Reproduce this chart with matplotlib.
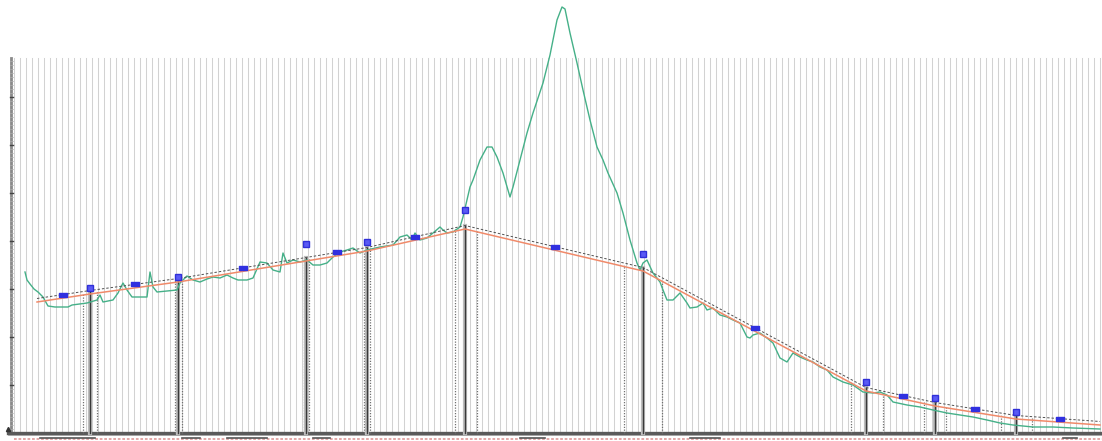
import numpy as np
import matplotlib
matplotlib.use("Agg")
import matplotlib.pyplot as plt

# ---- data (station, elevation in chart units) ----
ground_station = [25, 27, 30, 34, 38, 43, 48, 55, 68, 72, 87, 97, 100, 103, 113, 118, 123, 127, 132, 147,
                  150, 153, 157, 177, 180, 187, 193, 200, 207, 213, 220, 227, 233, 238, 247, 253, 260, 267,
                  273, 280, 283, 287, 293, 300, 307, 313, 320, 327, 333, 340, 347, 353, 360, 367, 380, 393,
                  400, 407, 412, 415, 420, 427, 433, 440, 443, 447, 453, 460, 463, 467, 470, 473, 480, 487,
                  492, 497, 503, 510, 513, 520, 527, 533, 543, 550, 557, 562, 565, 570, 577, 583, 590, 597,
                  603, 608, 617, 623, 630, 637, 640, 643, 647, 653, 660, 663, 667, 673, 680, 687, 690, 697,
                  703, 707, 713, 720, 727, 733, 740, 747, 750, 753, 760, 767, 773, 780, 787, 793, 800, 807,
                  813, 820, 827, 833, 843, 853, 863, 873, 880, 887, 893, 907, 920, 933, 947, 960, 973, 987,
                  1000, 1013, 1033, 1053, 1073, 1100]
ground_y = [272, 280, 284, 289, 292, 297, 306, 307, 307, 305, 303, 300, 295, 302, 300, 293, 283, 290, 297, 297,
            272, 287, 292, 290, 283, 276, 280, 282, 279, 277, 278, 275, 278, 280, 280, 278, 262, 263,
            270, 272, 253, 263, 260, 262, 260, 265, 265, 263, 257, 252, 250, 248, 253, 250, 247, 245,
            237, 235, 240, 233, 240, 238, 233, 227, 230, 233, 232, 227, 217, 200, 187, 180, 160, 147,
            147, 157, 173, 197, 187, 160, 133, 113, 83, 55, 20, 7, 9, 33, 63, 90, 120, 147,
            160, 173, 193, 213, 240, 263, 270, 263, 260, 273, 282, 290, 300, 300, 293, 303, 308, 307,
            303, 310, 308, 315, 317, 320, 323, 337, 338, 335, 333, 338, 343, 358, 362, 353, 357, 360,
            362, 367, 370, 377, 382, 385, 392, 393, 392, 395, 402, 405, 407, 410, 413, 415, 417, 420,
            423, 425, 427, 427, 428, 429]
ground_elev = [441 - v for v in ground_y]

design_station = [37, 90, 178, 306, 367, 465, 643, 866, 935, 1016, 1100]
design_y = [302, 294, 282, 261, 251, 229, 271, 391, 406, 419, 425]
design_elev = [441 - v for v in design_y]

pvi_station = [90, 178, 306, 367, 465, 643, 866, 935, 1016]
pvi_label_y = [288, 277, 244, 242, 210, 254, 382, 398, 412]
pvi_label_elev = [441 - v for v in pvi_label_y]
bvc_station = [83, 175, 304, 364, 455, 624, 851, 924, 1001]
evc_station = [97, 182, 309, 370, 477, 662, 883, 946, 1032]
grade_label_station = [63, 135, 243, 337, 415, 555, 755, 903, 975, 1060]

BASE = 441 - 432.5
TOP = 441 - 58

fig = plt.figure(figsize=(11.02, 4.41), dpi=100)
ax = fig.add_axes([0, 0, 1, 1])
ax.set_xlim(0, 1102)
ax.set_ylim(0, 441)
ax.axis('off')

# vertical grid lines
for gx in np.arange(14, 1101, 6.0):
    ax.plot([gx, gx], [BASE, TOP], color='#d2d2d2', lw=0.75, zorder=1)

# left ruler
ax.plot([11, 11], [BASE, TOP], color='#8a8a8a', lw=2.0, zorder=2)
for ty in np.arange(BASE, TOP, 4.0):
    ax.plot([10, 12.5], [ty, ty], color='#b0b0b0', lw=0.5, zorder=2)
for ty in np.arange(BASE, TOP, 48.0):
    ax.plot([9.5, 13], [ty, ty], color='#444444', lw=1.0, zorder=3)
ax.plot([8], [441 - 429], marker='^', color='#333333', markersize=3, zorder=4)

# bottom band
ax.plot([8, 1102], [BASE, BASE], color='#5a5a5a', lw=2.4, zorder=3)
ax.plot([8, 1102], [441 - 435, 441 - 435], color='#9a9a9a', lw=0.6, zorder=3)
ax.plot([14, 1102], [441 - 438.5, 441 - 438.5], color='#e0a0a0', lw=1.3,
        linestyle=(0, (1.5, 1.0)), zorder=3)
for s0, s1 in [(40, 95), (182, 200), (227, 267), (313, 330), (520, 545), (690, 720), (1063, 1077)]:
    ax.plot([s0, s1], [441 - 437.5, 441 - 437.5], color='#555555', lw=1.2, zorder=4)

def design_at(s):
    return np.interp(s, design_station, design_elev)

# vertical curve lines
for s in bvc_station + evc_station:
    ax.plot([s, s], [BASE, design_at(s) + 2], color='#707070', lw=0.9,
            linestyle=(0, (1, 1.2)), zorder=4)
for s in pvi_station:
    ax.plot([s, s], [BASE, design_at(s) + 3], color='#bdbdbd', lw=3.0, zorder=4)
    ax.plot([s, s], [BASE, design_at(s) + 3], color='#3a3a3a', lw=1.0, zorder=5)

# ground line
ax.plot(ground_station, ground_elev, color='#45b088', lw=1.0, zorder=6)

# design lines
ax.plot(design_station, design_elev, color='#f08a6a', lw=1.1, zorder=7)
ax.plot(design_station, [e + 3.5 for e in design_elev], color='#505050', lw=0.7,
        linestyle=(0, (2.5, 2.0)), zorder=7)

# markers
ax.plot(pvi_station, pvi_label_elev, linestyle='none', marker='s', markersize=5,
        color='#5a5af5', markeredgecolor='#3030d8', zorder=8)
dash_marker = [(-1, -0.45), (1, -0.45), (1, 0.45), (-1, 0.45), (-1, -0.45)]
ax.plot(grade_label_station, [design_at(s) + 3.5 for s in grade_label_station],
        linestyle='none', marker=dash_marker, markersize=5.5, color='#3030e0', zorder=8)

fig.savefig('out.png', dpi=100)
